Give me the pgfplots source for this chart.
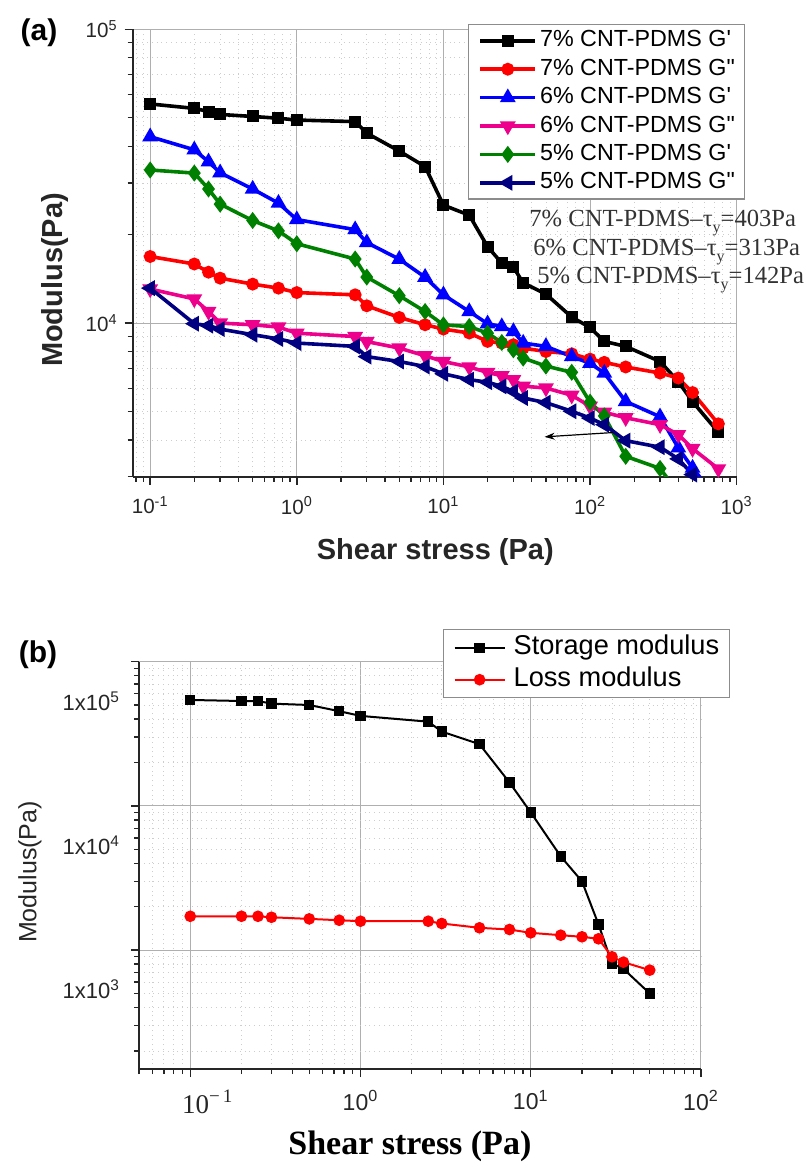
\documentclass[border=0pt]{standalone}
\usepackage{pgfplots}
\pgfplotsset{compat=1.18}
\usepackage{pgfplotstable}
\usepackage{fontspec}
\setmainfont{Liberation Sans}
\newfontfamily\timesfont{Liberation Serif}
\usetikzlibrary{arrows.meta}
\definecolor{cnavy}{RGB}{0,0,128}
\definecolor{cgreen}{RGB}{0,128,0}
\definecolor{majgrid}{RGB}{175,175,175}
\definecolor{mingrid}{RGB}{205,205,205}

\pgfplotstableread{
x     g7p    g7pp   g6p    g6pp   g5p    g5pp
0.1   55700  16850  43100  13060  33200  13150
0.2   53800  15890  38900  12080  32400  9950
0.25  52500  14900  35400  10950  28600  9800
0.3   51300  14220  32500  10000  25400  9540
0.5   50500  13570  28600  9870   22340  9130
0.75  49800  13150  25600  9690   20600  8830
1     49100  12700  22500  9240   18620  8550
2.5   48500  12480  20800  9000   16520  8330
3     44300  11450  18800  8650   14340  7690
5     38500  10450  16500  8220   12390  7400
7.5   34100  9870   14330  7740   10950  7110
10    25200  9540   12480  7400   9860   6720
15    23300  9250   10950  7090   9730   6420
20    18200  8660   9950   6790   9240   6290
25    16000  8550   9730   6620   8590   6090
30    15500  8440   9360   6420   8110   5850
35    13700  8220   8550   6100   7600   5560
50    12550  8000   8330   6010   7140   5360
75    10480  7860   7690   5680   6800   5010
100   9660   7540   7300   5210   5380   4750
125   8660   7350   6760   4970   4830   4510
175   8330   7090   5410   4760   3520   3980
300   7400   6760   4800   4510   3200   3780
400   6320   6500   3760   4170   2650   3450
500   5400   5800   3210   3740   nan    3050
750   4250   4540   2500   3190   nan    2500
}\dataA

\pgfplotstableread{
x     gs     gl
0.1   54300  1718
0.2   53400  1718
0.25  53400  1718
0.3   51200  1691
0.5   50100  1648
0.75  45400  1613
1     42100  1588
2.5   38400  1588
3     32800  1531
5     26800  1429
7.5   14550  1391
10    9020   1319
15    4470   1270
20    3000   1238
25    1510   1199
30    809    900
35    743    826
50    501    727
}\dataB

\begin{document}
\begin{tikzpicture}
\useasboundingbox (0,0) rectangle (402.5pt,-581pt);

% ---------- panel (a) ----------
\begin{axis}[
  at={(66.35pt,-14.65pt)}, anchor=north west,
  width=302pt, height=223.7pt, scale only axis,
  xmode=log, ymode=log,
  xmin=0.076, xmax=1000, ymin=3000, ymax=1e5,
  axis x line*=bottom, axis y line*=left,
  axis line style={line width=0.9pt, black!85},
  tick align=outside,
  major tick length=4pt, minor tick length=2.5pt,
  every tick/.style={line width=0.7pt, black!85},
  log number format basis/.code 2 args={\pgfmathparse{round(#2)}\pgfmathtruncatemacro\ex{\pgfmathresult}10\textsuperscript{\ex}},
  tick label style={font=\fontsize{10.3}{12}\selectfont, text=black!85},
  xticklabel style={yshift=-2.5pt},
  grid=both,
  major grid style={majgrid, line width=0.5pt},
  minor grid style={mingrid, line width=0.4pt, dotted},
  xlabel={Shear stress (Pa)},
  ylabel={Modulus(Pa)},
  label style={font=\fontsize{14.5}{17}\selectfont\bfseries, text=black!85},
  xlabel style={at={(axis description cs:0.501,-0.168)}, anchor=center},
  ylabel style={at={(axis description cs:-0.1286,0.4397)}, anchor=center},
  legend style={at={(axis description cs:0.555,1.0118)}, anchor=north west,
    draw=black!45, line width=0.6pt, fill=white,
    inner xsep=5pt, inner ysep=2.5pt,
    font=\fontsize{11.65}{13}\selectfont,
    nodes={inner sep=0pt, text height=8.6pt, text depth=2.6pt},
    row sep=3pt, column sep=1.5pt},
  legend cell align=left,
  legend image code/.code={\draw[mark repeat=2,mark phase=2,#1] plot coordinates {(0pt,0pt) (13.75pt,0pt) (27.5pt,0pt)};},
]
\addplot[black, line width=1.8pt, mark=square*, mark size=2.1pt] table[x=x,y=g7p]{\dataA};
\addlegendentry{7\% CNT-PDMS G\textquotesingle}
\addplot[red, line width=1.8pt, mark=*, mark size=2.3pt] table[x=x,y=g7pp]{\dataA};
\addlegendentry{7\% CNT-PDMS G\textquotedbl}
\addplot[blue, line width=1.8pt, mark=triangle*, mark size=2.8pt] table[x=x,y=g6p]{\dataA};
\addlegendentry{6\% CNT-PDMS G\textquotesingle}
\addplot[magenta, line width=1.8pt, mark=triangle*, mark size=2.8pt, mark options={rotate=180}] table[x=x,y=g6pp]{\dataA};
\addlegendentry{6\% CNT-PDMS G\textquotedbl}
\addplot[cgreen, line width=1.8pt, mark=diamond*, mark size=2.8pt] table[x=x,y=g5p]{\dataA};
\addlegendentry{5\% CNT-PDMS G\textquotesingle}
\addplot[cnavy, line width=1.8pt, mark=triangle*, mark size=2.8pt, mark options={rotate=90}] table[x=x,y=g5pp]{\dataA};
\addlegendentry{5\% CNT-PDMS G\textquotedbl}
\draw[-{Stealth[length=5pt,width=3.5pt]}, line width=0.6pt, black] (axis cs:143,4240) -- (axis cs:49,4100);
\end{axis}

\node[font=\fontsize{15}{17}\selectfont\bfseries] at (19.5pt,-16.5pt) {(a)};

\begin{scope}[every node/.style={anchor=base west, text=black!80, inner sep=0pt, font=\timesfont\fontsize{12.3}{14}\selectfont}]
\node at (264.5pt,-113pt) {7\% CNT-PDMS–τ\raisebox{-0.25em}{\fontsize{8}{9}\selectfont y}=403Pa};
\node at (266.5pt,-127.5pt) {6\% CNT-PDMS–τ\raisebox{-0.25em}{\fontsize{8}{9}\selectfont y}=313Pa};
\node at (268.5pt,-141.7pt) {5\% CNT-PDMS–τ\raisebox{-0.25em}{\fontsize{8}{9}\selectfont y}=142Pa};
\end{scope}

% ---------- panel (b) ----------
\begin{axis}[
  at={(69.5pt,-330.85pt)}, anchor=north west,
  width=281pt, height=203.65pt, scale only axis,
  xmode=log, ymode=log,
  xmin=0.05, xmax=100, ymin=150, ymax=1e5,
  axis x line*=bottom, axis y line*=left,
  axis line style={line width=1pt, black!85},
  tick align=outside,
  major tick length=4pt, minor tick length=2.5pt,
  every tick/.style={line width=0.7pt, black!85},
  xtick={0.1,1,10,100},
  minor xtick={0.05,0.06,0.07,0.08,0.09,0.2,0.3,0.4,0.5,0.6,0.7,0.8,0.9,2,3,4,5,6,7,8,9,20,30,40,50,60,70,80,90},
  xticklabels={{\hspace*{17pt}\timesfont\fontsize{13.5}{15}\selectfont 10\raisebox{0.85ex}{\fontsize{9.5}{10}\selectfont −\,1}},10\textsuperscript{0},10\textsuperscript{1},10\textsuperscript{2}},
  ytick={1000,10000,100000},
  minor ytick={200,300,400,500,600,700,800,900,2000,3000,4000,5000,6000,7000,8000,9000,20000,30000,40000,50000,60000,70000,80000,90000},
  yticklabels={\empty,\empty,\empty},
  extra y ticks={53333,5333.3,533.33},
  extra y tick labels={1x10\textsuperscript{5},1x10\textsuperscript{4},1x10\textsuperscript{3}},
  extra y tick style={major tick length=0pt, grid=none, yticklabel style={xshift=-6pt}},
  xticklabel style={font=\fontsize{11.5}{13}\selectfont, text=black!85, yshift=-3pt},
  yticklabel style={font=\fontsize{11}{13}\selectfont, text=black!85},
  grid=both,
  major grid style={majgrid, line width=0.5pt},
  minor grid style={mingrid, line width=0.4pt, dotted},
  xlabel={Shear stress (Pa)},
  ylabel={Modulus(Pa)},
  xlabel style={font=\timesfont\bfseries\fontsize{17}{20}\selectfont, at={(axis description cs:0.482,-0.189)}, anchor=center},
  ylabel style={font=\fontsize{12.5}{15}\selectfont, text=black!85, at={(axis description cs:-0.194,0.4837)}, anchor=center},
  legend style={at={(axis description cs:0.541,1.080)}, anchor=north west,
    draw=black!45, line width=0.6pt, fill=white,
    inner xsep=5pt, inner ysep=2.5pt,
    font=\fontsize{13.6}{15}\selectfont,
    nodes={inner sep=0pt, text height=10pt, text depth=3pt},
    row sep=3pt, column sep=4pt},
  legend cell align=left,
  legend image code/.code={\draw[mark repeat=2,mark phase=2,#1] plot coordinates {(0pt,0pt) (12.5pt,0pt) (25pt,0pt)};},
]
\addplot[black, line width=1pt, mark=square*, mark size=2.1pt] table[x=x,y=gs]{\dataB};
\addlegendentry{Storage modulus}
\addplot[red, line width=1pt, mark=*, mark size=2.4pt] table[x=x,y=gl]{\dataB};
\addlegendentry{Loss modulus}
\end{axis}

\node[font=\fontsize{15}{17}\selectfont\bfseries] at (19pt,-327.5pt) {(b)};
\end{tikzpicture}
\end{document}
